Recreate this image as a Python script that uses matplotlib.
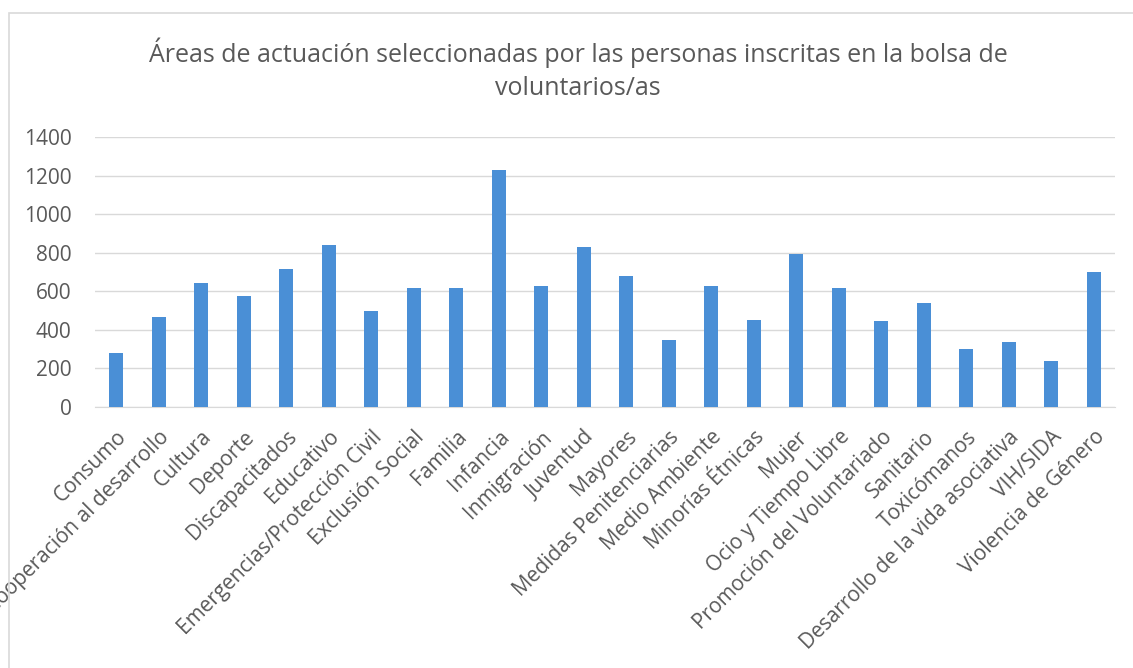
import matplotlib
matplotlib.use("Agg")
import matplotlib.pyplot as plt
from matplotlib.patches import Rectangle

categories = ["Consumo", "Cooperación al desarrollo", "Cultura", "Deporte",
              "Discapacitados", "Educativo", "Emergencias/Protección Civil",
              "Exclusión Social", "Familia", "Infancia", "Inmigración",
              "Juventud", "Mayores", "Medidas Penitenciarias", "Medio Ambiente",
              "Minorías Étnicas", "Mujer", "Ocio y Tiempo Libre",
              "Promoción del Voluntariado", "Sanitario", "Toxicómanos",
              "Desarrollo de la vida asociativa", "VIH/SIDA", "Violencia de Género"]
values = [278, 468, 645, 578, 718, 838, 498, 615, 615, 1228, 625,
          830, 678, 345, 625, 452, 795, 615, 448, 540, 303, 338, 237, 698]
yticks = [0, 200, 400, 600, 800, 1000, 1200, 1400]
title = "Áreas de actuación seleccionadas por las personas inscritas en la bolsa de\nvoluntarios/as"

plt.rcParams['font.family'] = ['Open Sans', 'DejaVu Sans']
text_color = '#595959'

fig = plt.figure(figsize=(11.33, 6.68), dpi=100)
fig.patches.append(Rectangle((9/1133, -0.1), 1.2, 1 - 13/668 + 0.1,
                             transform=fig.transFigure, fill=False,
                             edgecolor='#D9D9D9', linewidth=1.2))
ax = fig.add_axes([95/1133, 1 - 407/668, (1115 - 95)/1133, (407 - 137)/668])

x = list(range(len(categories)))
ax.bar(x, values, width=0.33, color='#4A8FD6', zorder=3)
ax.set_xlim(-0.5, len(categories) - 0.5)
ax.set_ylim(0, 1400)
ax.set_yticks(yticks)
ax.set_yticklabels([str(v) for v in yticks], fontsize=15, color=text_color)
ax.set_xticks(x)
ax.set_xticklabels(categories, rotation=45, ha='right', rotation_mode='anchor',
                   fontsize=15, color=text_color)
ax.tick_params(axis='both', length=0)
ax.tick_params(axis='y', pad=17)
ax.tick_params(axis='x', pad=14)
ax.grid(axis='y', color='#D9D9D9', linewidth=1, zorder=0)
for s in ['top', 'right', 'left']:
    ax.spines[s].set_visible(False)
ax.spines['bottom'].set_color('#D9D9D9')
ax.spines['bottom'].set_zorder(1)

fig.text(578/1133, 1 - 69/668, title, ha='center', va='center', fontsize=18,
         color=text_color, linespacing=1.4)

fig.savefig("out.png", dpi=100)
